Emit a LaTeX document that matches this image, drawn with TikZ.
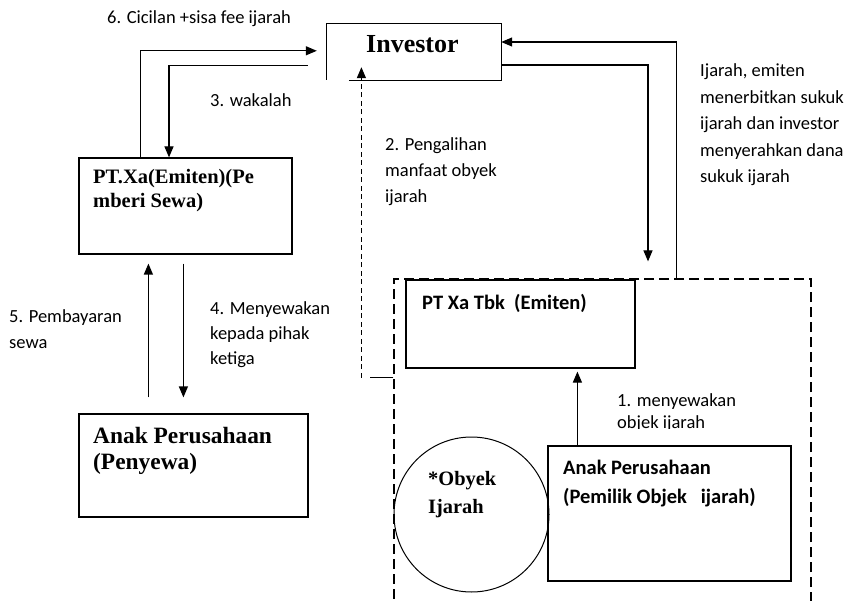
\documentclass[tikz,border=0pt]{standalone}
\usepackage{fontspec}
\setmainfont{Carlito}
\newfontfamily\tnr{Liberation Serif}
\usetikzlibrary{arrows.meta,calc}

\begin{document}
\begin{tikzpicture}[x=1pt,y=-1pt,
  line/.style={line width=1.2pt},
  box/.style={draw, line width=1.2pt, rectangle, inner sep=0pt},
  arr/.style={line width=1.2pt, -{Triangle[length=11pt,width=9pt]}},
  dasharr/.style={line width=1.3pt, dash pattern=on 5pt off 3.5pt, -{Triangle[length=11pt,width=9pt]}},
  % multi-line texts are placed by the baseline of their last line
  lbl/.style={anchor=base west, inner sep=0pt, align=left, font=\fontsize{18.5}{26}\selectfont},
  serifhead/.style={anchor=base west, inner sep=0pt, align=left},
  sanshead/.style={anchor=base west, inner sep=0pt, align=left, font=\fontsize{20.5}{29}\selectfont\bfseries},
]
\useasboundingbox (0,0) rectangle (858,601);

% ---- boxes ----
\node[inner sep=0pt, minimum width=174pt, minimum height=56pt] (inv) at (414,52) {};
\draw[line] ($(inv.south west)+(22,0)$) -- (inv.south east) -- (inv.north east)
  -- (inv.north west) -- (inv.south west);
\node[serifhead, font=\fontsize{26}{30}\tnr\bfseries] (invtxt) at (366,53) {Investor};

\node[box, minimum width=213pt, minimum height=96pt] (ptxa) at (185.5,206) {};
\node[serifhead, font=\fontsize{20.5}{24}\tnr\bfseries] (ptxatxt) at (93,208)
  {PT.Xa(Emiten)(Pe\\mberi Sewa)};

\node[box, minimum width=229pt, minimum height=103pt] (penyewa) at (193.5,465.5) {};
\node[serifhead, font=\fontsize{23.4}{26}\tnr\bfseries] (penyewatxt) at (93,469)
  {Anak Perusahaan\\(Penyewa)};

% dashed frame round the issuer, the owner and the leased object
\node[draw, line width=1.1pt, dash pattern=on 10pt off 5pt, inner sep=0pt,
  minimum width=417pt, minimum height=341pt] (grp) at (602.5,449.5) {};

\node[box, minimum width=229pt, minimum height=88pt] (tbk) at (520.5,324) {};
\node[sanshead] (tbktxt) at (422,309) {PT Xa Tbk\ \ (Emiten)};

\node[box, minimum width=243pt, minimum height=135pt] (pemilik) at (669.5,513.5) {};
\node[sanshead] (pemiliktxt) at (563,503) {Anak Perusahaan\\(Pemilik Objek\ \ \ ijarah)};

\node[draw, circle, line width=1pt, minimum size=155pt, inner sep=0pt] (obyek) at (471.5,514.5) {};
\node[serifhead, font=\fontsize{20.4}{28}\tnr\bfseries] (obyektxt) at (428,513) {*Obyek\\Ijarah};

% ---- connectors ----
% 6: instalments and remaining fee back to the investor
\draw[arr] ($(ptxa.north west)+(62,0)$) |- ($(inv.north west)+(-10,27)$);
% 3: wakalah
\draw[arr] ($(inv.north west)+(-19,42)$) -| ($(ptxa.north)+(-16.5,0)$);
% sukuk issued, funds handed over
\draw[arr] ($(grp.north west)+(283,0)$) |- ($(inv.east)+(0,-10)$);
\draw[arr] ($(inv.east)+(0,13)$) -| ($(tbk.north)+(127.5,-18)$);
% 2: transfer of the benefit of the object
\coordinate (c2foot) at ($(tbk.south west)+(-44,9)$);
\coordinate (c2tip) at ($(inv.south west)+(0,-13)$);
\draw[line] (c2foot -| grp.west) -- ($(c2foot)+(9,0)$);
\draw[dasharr] (c2foot) -- (c2foot |- c2tip);
% 1: leasing the object to the issuer
\coordinate (p1) at ($(pemilik.north west)+(30,0)$);
\draw[arr, shorten >=3pt] (p1) -- (p1 |- tbk.south);
% 5 and 4: rent payments and sub-lease
\coordinate (p5) at ($(penyewa.north west)+(70,-16)$);
\draw[arr, shorten >=9pt] (p5) -- (p5 |- ptxa.south);
\coordinate (p4) at ($(ptxa.south west)+(105,9)$);
\draw[arr, shorten >=16pt] (p4) -- (p4 |- penyewa.north);

% ---- labels ----
\node[lbl] (l6) at (107,24) {6. Cicilan +sisa fee ijarah};
\node[lbl] (l3) at (210,107) {3. wakalah};
\node[lbl] (l2) at (385,203) {2. Pengalihan\\manfaat obyek\\ijarah};
\node[lbl, font=\fontsize{18.5}{26.5}\selectfont] (lr) at (700,183)
  {Ijarah, emiten\\menerbitkan sukuk\\ijarah dan investor\\menyerahkan dana\\sukuk ijarah};
\node[lbl] (l5) at (9,348) {5. Pembayaran\\sewa};
\node[lbl, font=\fontsize{18.5}{25}\selectfont] (l4) at (210,364) {4. Menyewakan\\kepada pihak\\ketiga};
% the lower line of this label is cut off at its baseline
\begin{scope}
  \clip (600,380) rectangle (800,428.8);
  \node[lbl, font=\fontsize{18.5}{22.5}\selectfont] (l1) at (617,428.5) {1. menyewakan\\objek ijarah};
\end{scope}
\end{tikzpicture}
\end{document}
